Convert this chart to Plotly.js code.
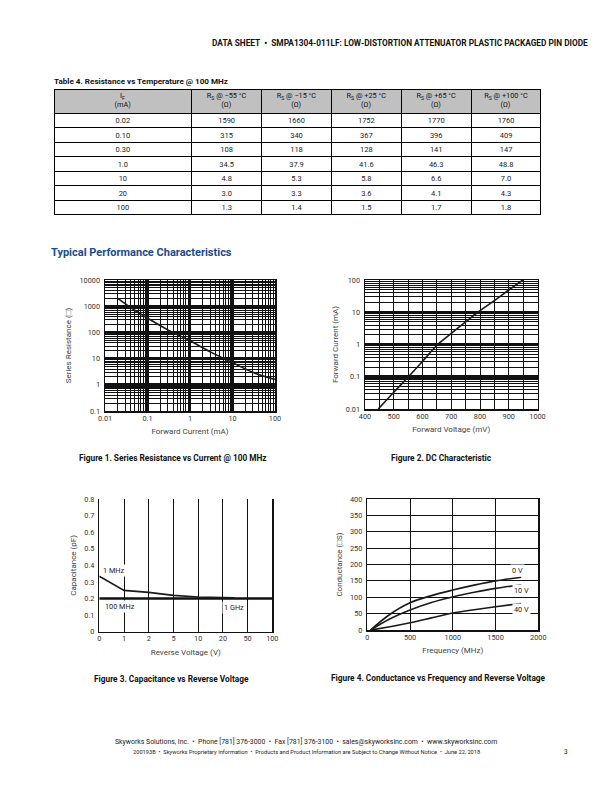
<!DOCTYPE html>
<html><head><meta charset="utf-8">
<script src="https://cdn.plot.ly/plotly-3.0.1.min.js"></script>
<style>html,body{margin:0;padding:0;background:#fff}#page{width:612px;height:792px}</style>
</head><body><div id="page"></div>
<script>
// ---------- Table 4 data ----------
const headMain = ['I', 'R', 'R', 'R', 'R', 'R'];
const headSub = ['F', 'S', 'S', 'S', 'S', 'S'];
const headRest = ['', ' @ −55 °C', ' @ −15 °C', ' @ +25 °C', ' @ +65 °C', ' @ +100 °C'];
const headUnit = ['(mA)', '(Ω)', '(Ω)', '(Ω)', '(Ω)', '(Ω)'];
const ifCurrent = ['0.02', '0.10', '0.30', '1.0', '10', '20', '100'];
const rsM55 = ['1590', '315', '108', '34.5', '4.8', '3.0', '1.3'];
const rsM15 = ['1660', '340', '118', '37.9', '5.3', '3.3', '1.4'];
const rsP25 = ['1752', '367', '128', '41.6', '5.8', '3.6', '1.5'];
const rsP65 = ['1770', '396', '141', '46.3', '6.6', '4.1', '1.7'];
const rsP100 = ['1760', '409', '147', '48.8', '7.0', '4.3', '1.8'];

// ---------- Figure 1: Series resistance vs current ----------
const fig1Current = [0.02, 0.05, 0.1, 0.3, 1, 3, 10, 30, 100];
const fig1Resistance = [2000, 700, 350, 125, 48, 18, 7, 3, 1.6];
const fig1XTicks = [0.01, 0.1, 1, 10, 100];
const fig1XLabels = ['0.01', '0.1', '1', '10', '100'];
const fig1YTicks = [0.1, 1, 10, 100, 1000, 10000];
const fig1YLabels = ['0.1', '1', '10', '100', '1000', '10000'];

// ---------- Figure 2: DC characteristic ----------
const fig2Voltage = [446, 500, 551, 600, 653, 700, 750, 792, 850, 900, 949];
const fig2Current = [0.01, 0.033, 0.1, 0.3, 1, 2.2, 5, 10, 23, 49, 100];
const fig2YTicks = [0.01, 0.1, 1, 10, 100];
const fig2YLabels = ['0.01', '0.1', '1', '10', '100'];

// ---------- Figure 3: Capacitance vs reverse voltage ----------
const fig3VoltLabels = ['0', '1', '2', '5', '10', '20', '50', '100'];
const fig3VoltPos = [0, 1, 2, 3, 4, 5, 6, 7];
const cap1MHzPos = [0, 1, 2, 3, 4, 5, 5.47];
const cap1MHz = [0.335, 0.249, 0.237, 0.219, 0.209, 0.205, 0.205];
const capHighPos = [0, 7];
const capHigh = [0.2, 0.2];

// ---------- Figure 4: Conductance vs frequency ----------
const fig4Freq = [40, 250, 500, 750, 1000, 1250, 1500, 1800];
const g0V = [0, 45, 83, 105, 122, 137, 150, 161];
const g10V = [0, 32, 61, 84, 101, 115, 127, 138];
const g40V = [0, 9, 22, 37, 52, 62, 71, 81];

// ---------- helpers ----------
const W = 612, H = 792;
const px = v => v / W;
const py = v => 1 - v / H;
const FAM = 'Roboto';
const FONT = 'Roboto, "Liberation Sans", sans-serif';
const TICKF = {family: FONT, size: 7.3, color: '#333'};
const TITLEF = {family: FONT, size: 8, color: '#444'};
const GRID = '#111';
const CURVE = {color: '#1a1a1a', width: 1.6, shape: 'spline'};
const HEADSIZE = 7.3;
const CLEAR = 'rgba(0,0,0,0)';
const SPACE = '\u00a0';

// centre the two header lines on each other (Plotly left-aligns lines of a block)
const ctx = document.createElement('canvas').getContext('2d');
function tw(s, size) { ctx.font = size + 'px ' + FAM; return ctx.measureText(s).width; }
const nbspW = tw(SPACE, HEADSIZE);
function pad(n) { return SPACE.repeat(Math.max(0, Math.round(n / nbspW))); }
const tableHeaders = headMain.map((m, i) => {
  const w1 = tw(m + headRest[i], HEADSIZE) + 0.7 * tw(headSub[i], HEADSIZE);
  const w2 = tw(headUnit[i], HEADSIZE);
  let l1 = m + '<sub>' + headSub[i] + '</sub>' + headRest[i];
  let l2 = headUnit[i];
  if (w1 > w2) l2 = pad((w1 - w2) / 2) + l2; else l1 = pad((w2 - w1) / 2) + l1;
  return l1 + '<br>' + l2;
});
const colW = [138, 70, 70, 70, 70, 70];
const bodyCols = [ifCurrent, rsM55, rsM15, rsP25, rsP65, rsP100];
const blankCols = bodyCols.map(c => c.map(() => SPACE));
const blankHead = headMain.map(() => SPACE);
const TABLE_X = [px(54), px(542)];

const traces = [
  // table frame (fills and rules)
  {type: 'table', domain: {x: TABLE_X, y: [py(216), py(89)]},
   columnwidth: colW,
   header: {values: blankHead, align: 'center', height: 24,
            fill: {color: '#c0c0c0'}, line: {color: '#000', width: 1},
            font: {family: FONT, size: 7}},
   cells: {values: blankCols, align: 'center', height: 14.5,
           fill: {color: '#fff'}, line: {color: '#000', width: 1},
           font: {family: FONT, size: 7}}},
  // body values (text only, centred in the rows)
  {type: 'table', domain: {x: TABLE_X, y: [py(213), py(85.5)]},
   columnwidth: colW,
   header: {values: blankHead, height: 24, fill: {color: CLEAR}, line: {color: CLEAR, width: 0},
            font: {family: FONT, size: 7}},
   cells: {values: bodyCols, align: 'center', height: 14.5,
           fill: {color: CLEAR}, line: {color: CLEAR, width: 0},
           font: {family: FONT, size: 7.5, color: '#222'}}},
  // header labels (two lines)
  {type: 'table', domain: {x: TABLE_X, y: [py(130), py(83)]},
   columnwidth: colW,
   header: {values: tableHeaders, align: 'center', height: 12,
            fill: {color: CLEAR}, line: {color: CLEAR, width: 0},
            font: {family: FONT, size: HEADSIZE, color: '#111'}},
   cells: {values: [], fill: {color: CLEAR}, line: {color: CLEAR, width: 0}}},
  {type: 'scatter', mode: 'lines', x: fig1Current, y: fig1Resistance, xaxis: 'x', yaxis: 'y', line: CURVE, hoverinfo: 'skip'},
  {type: 'scatter', mode: 'lines', x: fig2Voltage, y: fig2Current, xaxis: 'x2', yaxis: 'y2', line: CURVE, hoverinfo: 'skip'},
  {type: 'scatter', mode: 'lines', x: capHighPos, y: capHigh, xaxis: 'x3', yaxis: 'y3', line: {color: '#111', width: 2.6}, hoverinfo: 'skip'},
  {type: 'scatter', mode: 'lines', x: cap1MHzPos, y: cap1MHz, xaxis: 'x3', yaxis: 'y3', line: {color: '#1a1a1a', width: 1.6}, hoverinfo: 'skip'},
  {type: 'scatter', mode: 'lines', x: fig4Freq, y: g0V, xaxis: 'x4', yaxis: 'y4', line: CURVE, hoverinfo: 'skip'},
  {type: 'scatter', mode: 'lines', x: fig4Freq, y: g10V, xaxis: 'x4', yaxis: 'y4', line: CURVE, hoverinfo: 'skip'},
  {type: 'scatter', mode: 'lines', x: fig4Freq, y: g40V, xaxis: 'x4', yaxis: 'y4', line: CURVE, hoverinfo: 'skip'}
];

const logMinor = {dtick: 'D1', showgrid: true, gridcolor: GRID, gridwidth: 1, ticks: ''};

const layout = {
  width: W, height: H, margin: {l: 0, r: 0, t: 0, b: 0},
  paper_bgcolor: '#fff', plot_bgcolor: '#fff', showlegend: false,
  font: {family: FONT, color: '#222'},
  // Figure 1
  xaxis: {domain: [px(105), px(275)], anchor: 'y', type: 'log', range: [-2, 2],
          tickvals: fig1XTicks, ticktext: fig1XLabels, tickfont: TICKF,
          showgrid: true, gridcolor: GRID, gridwidth: 2.2, minor: logMinor,
          showline: true, linecolor: GRID, linewidth: 1.5, mirror: true, zeroline: false,
          title: {text: 'Forward Current (mA)', font: TITLEF, standoff: 6}},
  yaxis: {domain: [py(411), py(280)], anchor: 'x', type: 'log', range: [-1, 4],
          tickvals: fig1YTicks, ticktext: fig1YLabels, tickfont: TICKF, ticklabelstandoff: 2,
          showgrid: true, gridcolor: GRID, gridwidth: 3, minor: logMinor,
          showline: true, linecolor: GRID, linewidth: 1.5, mirror: true, zeroline: false,
          title: {text: 'Series Resistance (□)', font: TITLEF, standoff: 6}},
  // Figure 2
  xaxis2: {domain: [px(365), px(537.5)], anchor: 'y2', range: [400, 1000], dtick: 100, tickfont: TICKF,
           showgrid: true, gridcolor: GRID, gridwidth: 1,
           minor: {dtick: 50, showgrid: true, gridcolor: GRID, gridwidth: 1},
           showline: true, linecolor: GRID, linewidth: 1.5, mirror: true, zeroline: false,
           title: {text: 'Forward Voltage (mV)', font: TITLEF, standoff: 6}},
  yaxis2: {domain: [py(409), py(280)], anchor: 'x2', type: 'log', range: [-2, 2],
           tickvals: fig2YTicks, ticktext: fig2YLabels, tickfont: TICKF, ticklabelstandoff: 2,
           showgrid: true, gridcolor: GRID, gridwidth: 3, minor: logMinor,
           showline: true, linecolor: GRID, linewidth: 1.5, mirror: true, zeroline: false,
           title: {text: 'Forward Current (mA)', font: TITLEF, standoff: 6}},
  // Figure 3
  xaxis3: {domain: [px(99.3), px(272.3)], anchor: 'y3', range: [0, 7],
           tickvals: fig3VoltPos, ticktext: fig3VoltLabels, tickfont: TICKF,
           showgrid: true, gridcolor: GRID, gridwidth: 1,
           showline: true, linecolor: GRID, linewidth: 1, mirror: false, zeroline: false,
           title: {text: 'Reverse Voltage (V)', font: TITLEF, standoff: 6}},
  yaxis3: {domain: [py(631.7), py(499)], anchor: 'x3', range: [0, 0.8], dtick: 0.1, tickfont: TICKF, ticklabelstandoff: 2,
           showgrid: false, showline: true, linecolor: GRID, linewidth: 1.4, mirror: true, zeroline: false,
           title: {text: 'Capacitance (pF)', font: TITLEF, standoff: 6}},
  // Figure 4
  xaxis4: {domain: [px(367.3), px(538.3)], anchor: 'y4', range: [0, 2000], dtick: 500, tickfont: TICKF,
           showgrid: true, gridcolor: GRID, gridwidth: 1,
           showline: true, linecolor: GRID, linewidth: 1.5, mirror: true, zeroline: false,
           title: {text: 'Frequency (MHz)', font: TITLEF, standoff: 6}},
  yaxis4: {domain: [py(630), py(499)], anchor: 'x4', range: [0, 400], dtick: 50, tickfont: TICKF, ticklabelstandoff: 2,
           showgrid: true, gridcolor: GRID, gridwidth: 1,
           showline: true, linecolor: GRID, linewidth: 1.5, mirror: true, zeroline: false,
           title: {text: 'Conductance (□S)', font: TITLEF, standoff: 6}},
  annotations: [
    {text: '<b>DATA SHEET  •  SMPA1304-011LF: LOW-DISTORTION ATTENUATOR PLASTIC PACKAGED PIN DIODE</b>',
     xref: 'paper', yref: 'paper', x: px(590), y: py(43), xanchor: 'right', yanchor: 'middle', showarrow: false,
     font: {family: FONT, size: 8.3, color: '#111'}},
    {text: '<b>Table 4. Resistance vs Temperature @ 100 MHz</b>',
     xref: 'paper', yref: 'paper', x: px(52), y: py(81), xanchor: 'left', yanchor: 'middle', showarrow: false,
     font: {family: FONT, size: 8.1, color: '#111'}},
    {text: '<b>Typical Performance Characteristics</b>',
     xref: 'paper', yref: 'paper', x: px(49), y: py(253), xanchor: 'left', yanchor: 'middle', showarrow: false,
     font: {family: FONT, size: 11, color: '#1b4a8c'}},
    {text: '<b>Figure 1. Series Resistance vs Current @ 100 MHz</b>',
     xref: 'paper', yref: 'paper', x: px(173), y: py(458), xanchor: 'center', yanchor: 'middle', showarrow: false,
     font: {family: FONT, size: 8.3, color: '#111'}},
    {text: '<b>Figure 2. DC Characteristic</b>',
     xref: 'paper', yref: 'paper', x: px(441), y: py(458), xanchor: 'center', yanchor: 'middle', showarrow: false,
     font: {family: FONT, size: 8.3, color: '#111'}},
    {text: '<b>Figure 3. Capacitance vs Reverse Voltage</b>',
     xref: 'paper', yref: 'paper', x: px(171), y: py(679), xanchor: 'center', yanchor: 'middle', showarrow: false,
     font: {family: FONT, size: 8.3, color: '#111'}},
    {text: '<b>Figure 4. Conductance vs Frequency and Reverse Voltage</b>',
     xref: 'paper', yref: 'paper', x: px(438), y: py(678), xanchor: 'center', yanchor: 'middle', showarrow: false,
     font: {family: FONT, size: 8.3, color: '#111'}},
    {text: '1 MHz', xref: 'x3', yref: 'y3', x: 0.58, y: 0.366, showarrow: false, bgcolor: '#fff',
     font: {family: FONT, size: 7.3, color: '#222'}},
    {text: '100 MHz', xref: 'x3', yref: 'y3', x: 0.85, y: 0.149, showarrow: false, bgcolor: '#fff',
     font: {family: FONT, size: 7.3, color: '#222'}},
    {text: '1 GHz', xref: 'x3', yref: 'y3', x: 5.45, y: 0.145, showarrow: false, bgcolor: '#fff',
     font: {family: FONT, size: 7.3, color: '#222'}},
    {text: '0 V', xref: 'x4', yref: 'y4', x: 1762, y: 181, showarrow: false, bgcolor: '#fff',
     font: {family: FONT, size: 7.3, color: '#222'}},
    {text: '10 V', xref: 'x4', yref: 'y4', x: 1800, y: 122, showarrow: false, bgcolor: '#fff',
     font: {family: FONT, size: 7.3, color: '#222'}},
    {text: '40 V', xref: 'x4', yref: 'y4', x: 1800, y: 63, showarrow: false, bgcolor: '#fff',
     font: {family: FONT, size: 7.3, color: '#222'}},
    {text: 'Skyworks Solutions, Inc.  •  Phone [781] 376-3000  •  Fax [781] 376-3100  •  sales@skyworksinc.com  •  www.skyworksinc.com',
     xref: 'paper', yref: 'paper', x: px(306), y: py(741), xanchor: 'center', yanchor: 'middle', showarrow: false,
     font: {family: FONT, size: 6.9, color: '#222'}},
    {text: '200193B  •  Skyworks Proprietary Information  •  Products and Product Information are Subject to Change Without Notice  •  June 22, 2018',
     xref: 'paper', yref: 'paper', x: px(306), y: py(752), xanchor: 'center', yanchor: 'middle', showarrow: false,
     font: {family: FONT, size: 5.7, color: '#222'}},
    {text: '3', xref: 'paper', yref: 'paper', x: px(566), y: py(752), xanchor: 'center', yanchor: 'middle', showarrow: false,
     font: {family: FONT, size: 6.5, color: '#222'}}
  ]
};

Plotly.newPlot('page', traces, layout, {staticPlot: true, displayModeBar: false});
</script>
</body></html>
